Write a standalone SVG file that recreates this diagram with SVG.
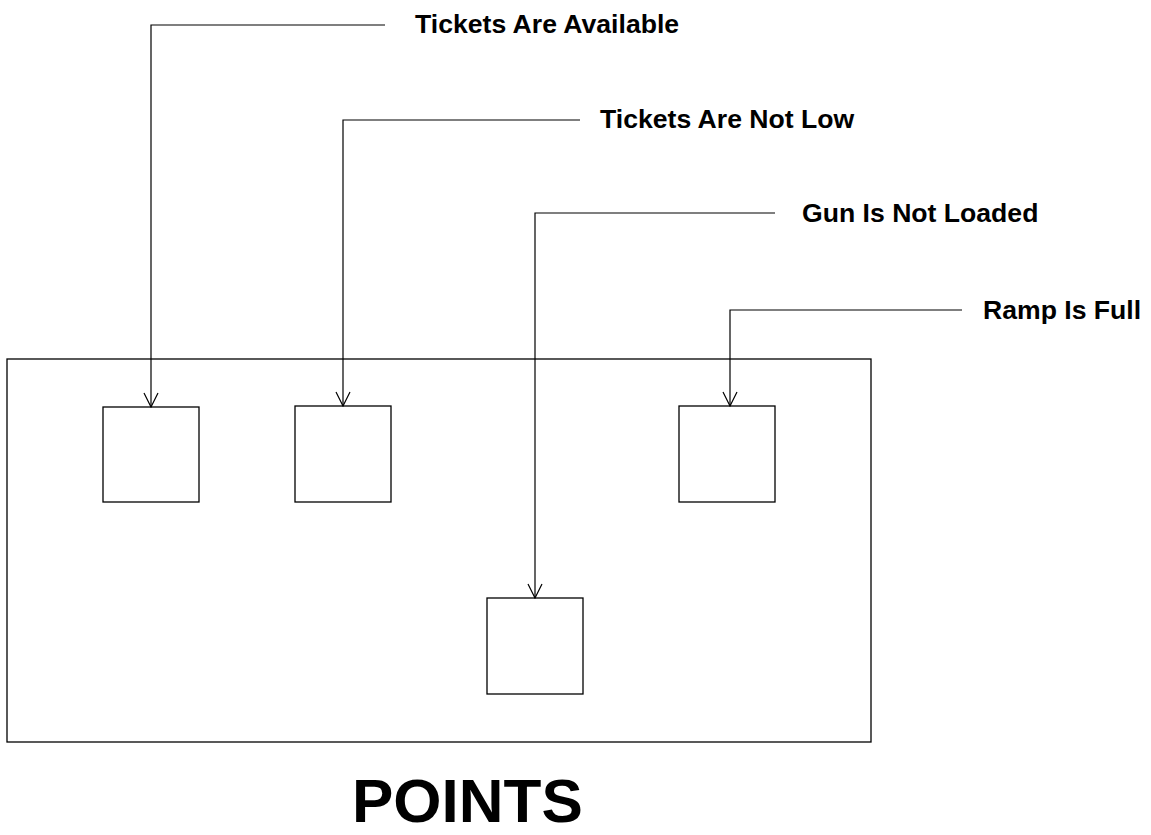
<svg xmlns="http://www.w3.org/2000/svg" width="1151" height="835" viewBox="0 0 1151 835">
<style>
.box{fill:#fff;stroke:#000;stroke-width:1.3}
.frame{fill:none;stroke:#000;stroke-width:1.3}
.wire{fill:none;stroke:#000;stroke-width:1.2}
.lbl{font-family:"Liberation Sans",Arial,sans-serif;font-weight:bold;font-size:26.6px;fill:#000}
.title{font-family:"Liberation Sans",Arial,sans-serif;font-weight:bold;font-size:62px;fill:#000}
</style>
<defs>
<marker id="arr" viewBox="0 0 16 16" refX="15" refY="8" markerWidth="16" markerHeight="16" markerUnits="userSpaceOnUse" orient="auto">
<path d="M1,1 L15,8 L1,15" fill="none" stroke="#000" stroke-width="1.2"/>
</marker>
</defs>
<rect width="1151" height="835" fill="#fff"/>
<g id="frame"><rect class="frame" x="7" y="359" width="864" height="383"/></g>
<g id="node-tickets-available"><rect class="box" x="103" y="407" width="96" height="95"/></g>
<g id="node-tickets-not-low"><rect class="box" x="295" y="406" width="96" height="96"/></g>
<g id="node-gun-not-loaded"><rect class="box" x="487" y="598" width="96" height="96"/></g>
<g id="node-ramp-full"><rect class="box" x="679" y="406" width="96" height="96"/></g>
<g id="connectors">
<path class="wire" d="M385,25 H151 V407" marker-end="url(#arr)"/>
<path class="wire" d="M580,120 H343 V406" marker-end="url(#arr)"/>
<path class="wire" d="M775,213 H535 V598" marker-end="url(#arr)"/>
<path class="wire" d="M962,310 H730 V406" marker-end="url(#arr)"/>
</g>
<g id="labels">
<text class="lbl" x="415" y="33">Tickets Are Available</text>
<text class="lbl" x="600" y="128">Tickets Are Not Low</text>
<text class="lbl" x="802" y="222">Gun Is Not Loaded</text>
<text class="lbl" x="983" y="319">Ramp Is Full</text>
<text class="title" x="352" y="822">POINTS</text>
</g>
</svg>
